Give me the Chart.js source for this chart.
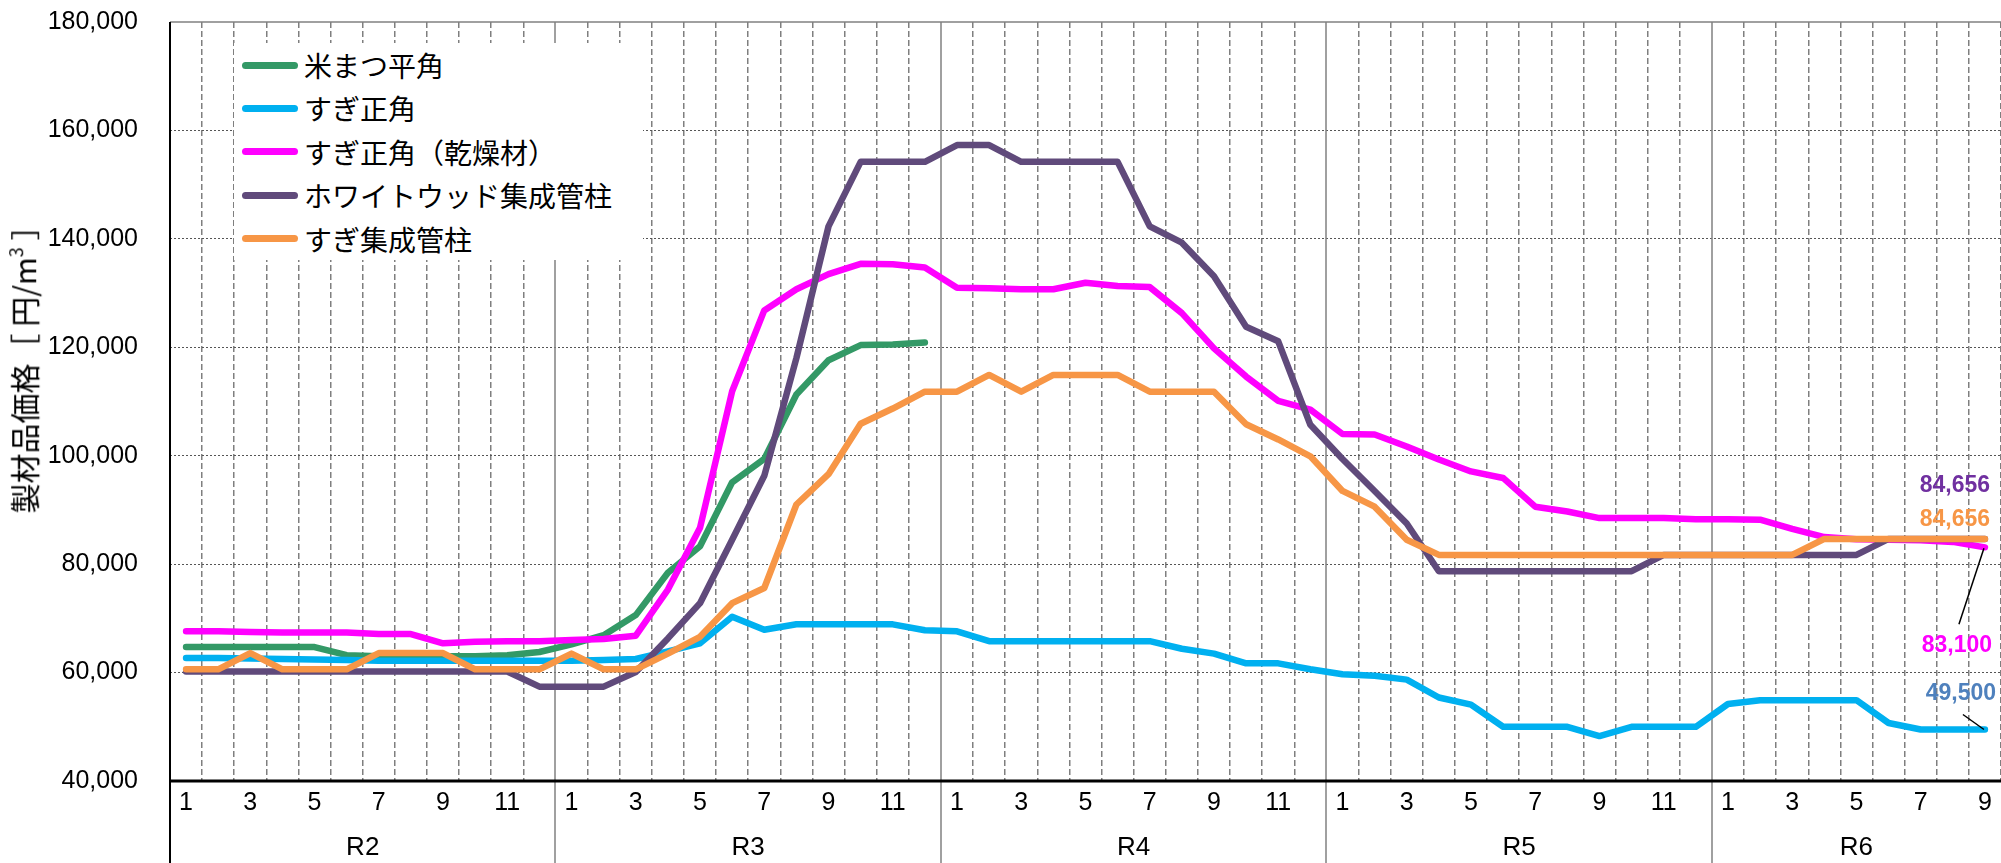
<!DOCTYPE html>
<html lang="ja">
<head>
<meta charset="utf-8">
<title>製材品価格の推移</title>
<script src="https://cdn.jsdelivr.net/npm/chart.js@4.4.1/dist/chart.umd.min.js"></script>
<style>
  html, body { margin: 0; padding: 0; background: #fff; }
  .wrap { position: relative; width: 2001px; height: 863px; font-family: 'Noto Sans CJK JP', sans-serif; }
  .legend { position: absolute; left: 234px; top: 43px; width: 409px; height: 217px; background: #fff; }
  .legend-item { position: absolute; left: 8px; height: 40px; display: flex; align-items: center; font-size: 28px; color: #000; white-space: nowrap; }
  .legend-swatch { width: 56px; height: 7px; border-radius: 4px; margin-right: 6px; }
  .y-title { position: absolute; left: 22px; top: 362px; transform: translate(-50%, -50%) rotate(-90deg); font-size: 30px; line-height: 1; white-space: nowrap; color: #000; }
  .y-title sup { font-size: 0.6em; vertical-align: 0.7em; }
</style>
</head>
<body>
<div class="wrap">
  <canvas id="chart"></canvas>
  <div class="legend" id="legend"></div>
  <div class="y-title">製材品価格［ 円/m<sup>3</sup> ］</div>
</div>
<script>
// x axis: years (R = 令和) and months
const years = ['R2', 'R3', 'R4', 'R5', 'R6'];
const monthsPerYear = [12, 12, 12, 12, 9];
const months = monthsPerYear.flatMap((n) => Array.from({ length: n }, (_, i) => String(i + 1)));

const seriesNames = ['米まつ平角', 'すぎ正角', 'すぎ正角（乾燥材）', 'ホワイトウッド集成管柱', 'すぎ集成管柱'];
const seriesColors = ['#339966', '#00B0F0', '#FF00FF', '#604A7B', '#F79646'];

// 円/m3, one value per month, R2-1 .. R6-9
const beimatsuHirakaku = [
  64700, 64700, 64700, 64700, 64700, 63200, 63000, 63000, 63000, 63000, 63200, 63800,
  65200, 66900, 70600, 78400, 83300, 95100, 99400, 111300, 117600, 120400, 120500, 120900,
  null, null, null, null, null, null, null, null, null, null, null, null,
  null, null, null, null, null, null, null, null, null, null, null, null,
  null, null, null, null, null, null, null, null, null,
];
const sugiShokaku = [
  62700, 62700, 62600, 62500, 62400, 62300, 62200, 62200, 62200, 62200, 62200, 62200,
  62200, 62300, 62500, 63900, 65400, 70300, 67900, 68900, 68900, 68900, 68900, 67800,
  67600, 65800, 65800, 65800, 65800, 65800, 65800, 64400, 63500, 61700, 61700, 60600,
  59700, 59400, 58700, 55400, 54100, 50000, 50000, 50000, 48300, 50000, 50000, 50000,
  54200, 54900, 54900, 54900, 54900, 50700, 49500, 49500, 49500,
];
const sugiShokakuKd = [
  67600, 67600, 67500, 67400, 67400, 67400, 67100, 67100, 65400, 65700, 65800, 65800,
  66000, 66200, 66800, 75300, 86700, 111900, 126800, 130700, 133500, 135400, 135300, 134700,
  131000, 130900, 130700, 130700, 131900, 131300, 131100, 126300, 119800, 114600, 110100, 108500,
  104000, 103900, 101700, 99300, 97100, 95900, 90600, 89700, 88500, 88500, 88500, 88300,
  88300, 88200, 86500, 85000, 84600, 84500, 84400, 84100, 83100,
];
const whitewoodShuseiKanbashira = [
  60200, 60200, 60200, 60200, 60200, 60200, 60200, 60200, 60200, 60200, 60200, 57400,
  57400, 57400, 60100, 66300, 72800, 84500, 96300, 118000, 142300, 154200, 154200, 154200,
  157300, 157300, 154200, 154200, 154200, 154200, 142300, 139300, 133100, 123800, 121100, 105700,
  99400, 93500, 87500, 78700, 78700, 78700, 78700, 78700, 78700, 78700, 81700, 81700,
  81700, 81700, 81700, 81700, 81700, 84656, 84656, 84656, 84656,
];
const sugiShuseiKanbashira = [
  60600, 60600, 63600, 60600, 60600, 60600, 63600, 63600, 63600, 60600, 60600, 60600,
  63500, 60600, 60600, 63500, 66600, 72800, 75600, 91000, 96600, 105900, 108700, 111800,
  111800, 114900, 111800, 114900, 114900, 114900, 111800, 111800, 111800, 105800, 103000, 99900,
  93500, 90600, 84500, 81700, 81700, 81700, 81700, 81700, 81700, 81700, 81700, 81700,
  81700, 81700, 81700, 84656, 84656, 84656, 84656, 84656, 84656,
];

const seriesValues = [beimatsuHirakaku, sugiShokaku, sugiShokakuKd, whitewoodShuseiKanbashira, sugiShuseiKanbashira];

// y ticks
const yMin = 40000;
const yMax = 180000;
const yStep = 20000;

// latest-month labels at the right edge: dataset index, colour, offset from the point, optional leader
const endLabels = [
  { series: 3, color: '#7030A0', dx: -30, dy: -53 },
  { series: 4, color: '#F79646', dx: -30, dy: -19 },
  { series: 2, color: '#FF00FF', dx: -28, dy: 98, leader: [-1, 1, -26, 77] },
  { series: 1, color: '#4F81BD', dx: -24, dy: -36, leader: [-1, 0, -22, -15] },
];

const fmt = (v) => Number(v).toLocaleString('en-US');

const framePlugin = {
  id: 'frame',
  beforeDatasetsDraw(chart) {
    const { ctx, chartArea: area } = chart;
    const x = chart.scales.x;
    ctx.save();
    ctx.strokeStyle = '#808080';
    ctx.lineWidth = 1.5;
    ctx.beginPath();
    ctx.moveTo(area.left, area.top);
    ctx.lineTo(area.right, area.top);
    ctx.stroke();

    // solid year boundaries, running down through the label rows
    let start = 0;
    monthsPerYear.forEach((n, k) => {
      if (k > 0) {
        const px = Math.round((x.getPixelForValue(start - 1) + x.getPixelForValue(start)) / 2);
        ctx.beginPath();
        ctx.moveTo(px, area.top);
        ctx.lineTo(px, chart.height);
        ctx.stroke();
      }
      start += n;
    });
    ctx.restore();
  },
  afterDatasetsDraw(chart) {
    const { ctx, chartArea: area } = chart;
    const x = chart.scales.x;
    ctx.save();

    // axis lines
    ctx.strokeStyle = '#000';
    ctx.lineWidth = 2;
    ctx.beginPath();
    ctx.moveTo(area.left, area.top);
    ctx.lineTo(area.left, chart.height);
    ctx.stroke();
    ctx.lineWidth = 3;
    ctx.beginPath();
    ctx.moveTo(area.left - 1, area.bottom);
    ctx.lineTo(area.right, area.bottom);
    ctx.stroke();

    // year row
    ctx.fillStyle = '#000';
    ctx.font = '26px "Liberation Sans", sans-serif';
    ctx.textAlign = 'center';
    ctx.textBaseline = 'middle';
    let start = 0;
    years.forEach((year, k) => {
      const n = monthsPerYear[k];
      const cx = (x.getPixelForValue(start) + x.getPixelForValue(start + n - 1)) / 2;
      ctx.fillText(year, cx, 848);
      start += n;
    });

    // latest values
    ctx.font = 'bold 23px "Liberation Sans", sans-serif';
    endLabels.forEach((lab) => {
      const pts = chart.getDatasetMeta(lab.series).data;
      const pt = pts[pts.length - 1];
      const data = seriesValues[lab.series];
      if (lab.leader) {
        const [x1, y1, x2, y2] = lab.leader;
        ctx.strokeStyle = '#000';
        ctx.lineWidth = 1.5;
        ctx.beginPath();
        ctx.moveTo(pt.x + x1, pt.y + y1);
        ctx.lineTo(pt.x + x2, pt.y + y2);
        ctx.stroke();
      }
      ctx.fillStyle = lab.color;
      ctx.fillText(fmt(data[data.length - 1]), pt.x + lab.dx, pt.y + lab.dy);
    });
    ctx.restore();
  },
};

const chart = new Chart(document.getElementById('chart'), {
  type: 'line',
  data: {
    labels: months,
    datasets: seriesNames.map((name, i) => ({
      label: name,
      data: seriesValues[i],
      borderColor: seriesColors[i],
      backgroundColor: seriesColors[i],
      borderWidth: 6.5,
      borderJoinStyle: 'round',
      borderCapStyle: 'round',
      pointRadius: 0,
      tension: 0,
      spanGaps: false,
      // later series are drawn on top
      order: seriesNames.length - 1 - i,
    })),
  },
  options: {
    responsive: true,
    maintainAspectRatio: false,
    animation: false,
    layout: { padding: { top: 22, right: 0, left: 0, bottom: 0 } },
    plugins: {
      legend: { display: false },
      tooltip: { enabled: false },
    },
    scales: {
      x: {
        type: 'category',
        offset: true,
        afterFit: (scale) => { scale.height = 82; },
        grid: {
          offset: true,
          drawTicks: false,
          lineWidth: 1.5,
          color: (c) => (c.index % 12 === 0 ? 'rgba(0,0,0,0)' : '#7f7f7f'),
        },
        border: { display: false, dash: [6, 3] },
        ticks: {
          autoSkip: false,
          maxRotation: 0,
          padding: 7,
          color: '#000',
          font: { family: '"Liberation Sans", sans-serif', size: 25 },
          callback: (v, i) => (Number(months[i]) % 2 === 1 ? months[i] : ''),
        },
      },
      y: {
        min: yMin,
        max: yMax,
        // tick padding is horizontal only here; keep it out of the top/bottom margins
        afterFit: (scale) => {
          scale.width = 170;
          scale.paddingTop = 0;
          scale.paddingBottom = 0;
        },
        grid: {
          drawTicks: false,
          lineWidth: 1,
          color: (c) => (c.tick && (c.tick.value === yMax || c.tick.value === yMin) ? 'rgba(0,0,0,0)' : '#555'),
        },
        border: { display: false, dash: [2, 2] },
        ticks: {
          stepSize: yStep,
          padding: 32,
          color: '#000',
          font: { family: '"Liberation Sans", sans-serif', size: 25 },
          callback: (v) => fmt(v),
        },
      },
    },
  },
  plugins: [framePlugin],
});

// legend box sits inside the plot, top-left
const legendEl = document.getElementById('legend');
seriesNames.forEach((name, i) => {
  const item = document.createElement('div');
  item.className = 'legend-item';
  item.style.top = (2 + i * 43.4) + 'px';
  const swatch = document.createElement('span');
  swatch.className = 'legend-swatch';
  swatch.style.background = seriesColors[i];
  item.appendChild(swatch);
  item.appendChild(document.createTextNode(name));
  legendEl.appendChild(item);
});
</script>
</body>
</html>
